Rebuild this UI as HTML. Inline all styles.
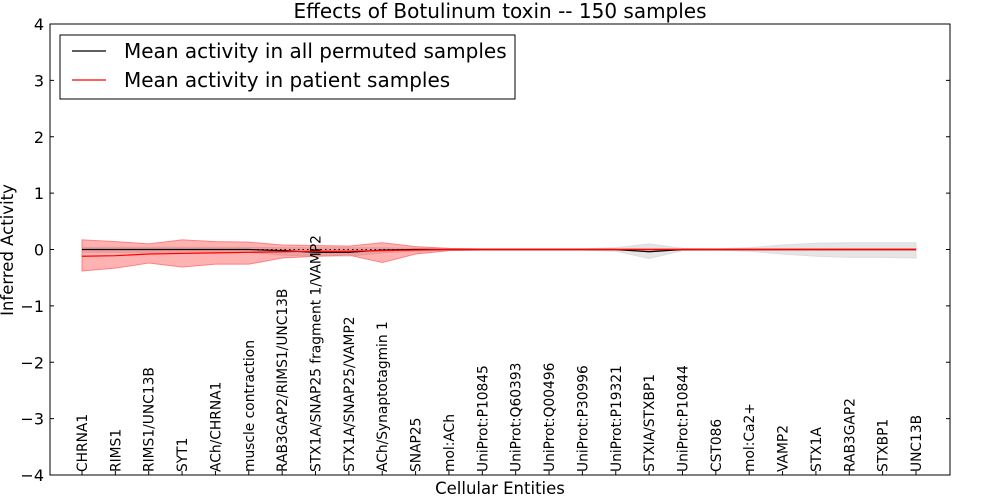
<!DOCTYPE html>
<html><head><meta charset="utf-8"><style>
body{margin:0;background:#fff;font-family:"DejaVu Sans",sans-serif;}
</style></head><body>
<svg id="c" width="1000" height="500" xmlns="http://www.w3.org/2000/svg" font-family="DejaVu Sans, sans-serif"></svg>
<script>
const categories=["CHRNA1","RIMS1","RIMS1/UNC13B","SYT1","ACh/CHRNA1","muscle contraction","RAB3GAP2/RIMS1/UNC13B","STX1A/SNAP25 fragment 1/VAMP2","STX1A/SNAP25/VAMP2","ACh/Synaptotagmin 1","SNAP25","mol:ACh","UniProt:P10845","UniProt:Q60393","UniProt:Q00496","UniProt:P30996","UniProt:P19321","STXIA/STXBP1","UniProt:P10844","CST086","mol:Ca2+","VAMP2","STX1A","RAB3GAP2","STXBP1","UNC13B"];
const permMean=[0,0,0,0,0,0,-0.02,-0.05,-0.05,-0.01,0,0,0,0,0,0,0,-0.04,0,0,0,0,0,0,0,0];
const permUpper=[0.04,0.04,0.04,0.04,0.04,0.04,0.03,0.03,0.03,0.03,0.02,0.01,0.01,0.01,0.01,0.01,0.03,0.1,0.02,0.01,0.03,0.08,0.11,0.12,0.12,0.12];
const permLower=[-0.05,-0.05,-0.05,-0.05,-0.05,-0.05,-0.1,-0.12,-0.12,-0.06,-0.03,-0.01,-0.01,-0.01,-0.01,-0.01,-0.03,-0.16,-0.02,-0.01,-0.03,-0.08,-0.12,-0.14,-0.14,-0.15];
const patMean=[-0.12,-0.11,-0.08,-0.07,-0.06,-0.05,-0.04,-0.03,-0.03,-0.02,-0.01,0,0,0,0,0,0,0,0,0,0,0,0,0,0,0];
const patUpper=[0.17,0.14,0.1,0.17,0.14,0.13,0.08,0.07,0.06,0.12,0.05,0.02,0.01,0.01,0.01,0.01,0.01,0.01,0.01,0.01,0.01,0.01,0.01,0.01,0.01,0.01];
const patLower=[-0.38,-0.33,-0.24,-0.31,-0.26,-0.26,-0.15,-0.12,-0.1,-0.23,-0.08,-0.02,-0.01,-0.01,-0.01,-0.01,-0.01,-0.01,-0.01,-0.01,-0.01,-0.01,-0.01,-0.01,-0.01,-0.01];
const yTicks=[4,3,2,1,0,-1,-2,-3,-4];
const yTickLabels=["4","3","2","1","0","\u22121","\u22122","\u22123","\u22124"];

const L=50,R=950,T=24,B=475;
const x=i=>82+i*(916-82)/(categories.length-1);
const y=v=>T+(4-v)/8*(B-T);
const svg=document.getElementById('c');
const NS='http://www.w3.org/2000/svg';
function mk(tag,attrs,parent){const e=document.createElementNS(NS,tag);for(const k in attrs)e.setAttribute(k,attrs[k]);(parent||svg).appendChild(e);return e;}
function band(up,lo,fill,op,stroke){
  let d='M'+up.map((v,i)=>x(i)+','+y(v)).join(' L');
  d+=' L'+lo.map((v,i)=>x(i)+','+y(v)).reverse().join(' L')+' Z';
  return mk('path',{d:d,fill:fill,'fill-opacity':op,stroke:stroke,'stroke-width':1});
}
function line(vals,color,w){return mk('polyline',{points:vals.map((v,i)=>x(i)+','+y(v)).join(' '),fill:'none',stroke:color,'stroke-width':w});}

let e;
e=band(permUpper,permLower,'#d0d0d0',0.55,'#dddddd');


e=band(patUpper,patLower,'#ff0000',0.3,'#ff8080');


e=mk('line',{x1:x(0),x2:x(categories.length-1),y1:y(0),y2:y(0),stroke:'#000','stroke-dasharray':'1.5,3','stroke-width':1});


e=line(permMean,'#000',1.2);


e=line(patMean,'#ff0000',1.2);



e=mk('rect',{x:L,y:T,width:R-L,height:B-T,fill:'none',stroke:'#000','stroke-width':1});



yTicks.forEach((v,i)=>{
  const t=mk('line',{x1:L,x2:L+4,y1:y(v),y2:y(v),stroke:'#000'});
  
  
  const t2=mk('line',{x1:R-4,x2:R,y1:y(v),y2:y(v),stroke:'#000'});
  
  
  const lb=mk('text',{x:L-6,y:y(v)+6,'text-anchor':'end','font-size':16});
  lb.textContent=yTickLabels[i];
  
  
});
categories.forEach((c,i)=>{
  const t=mk('line',{x1:x(i),x2:x(i),y1:B,y2:B-4,stroke:'#000'});
  
  
  const lb=mk('text',{x:0,y:0,transform:`translate(${x(i)+5},472) rotate(-90)`,'font-size':13.8});
  lb.textContent=c;
  
  
});
e=mk('text',{x:500,y:18,'text-anchor':'middle','font-size':20});
e.textContent='Effects of Botulinum toxin -- 150 samples';


e=mk('text',{x:500,y:494,'text-anchor':'middle','font-size':16.5});
e.textContent='Cellular Entities';


e=mk('text',{x:0,y:0,transform:'translate(13,250) rotate(-90)','text-anchor':'middle','font-size':16.5});
e.textContent='Inferred Activity';



const lg=mk('g',{});


mk('rect',{x:60,y:35,width:455,height:64,fill:'#fff',stroke:'#000'},lg);
[['Mean activity in all permuted samples','#000',51],['Mean activity in patient samples','#f00',80]].forEach(([t,c,yy])=>{
  const g=mk('g',{},lg);
  
  
  mk('line',{x1:72,x2:106,y1:yy,y2:yy,stroke:c,'stroke-width':1.2},g);
  const tx=mk('text',{x:124,y:yy+7,'font-size':20},g);
  tx.textContent=t;
});
</script>
</body></html>
